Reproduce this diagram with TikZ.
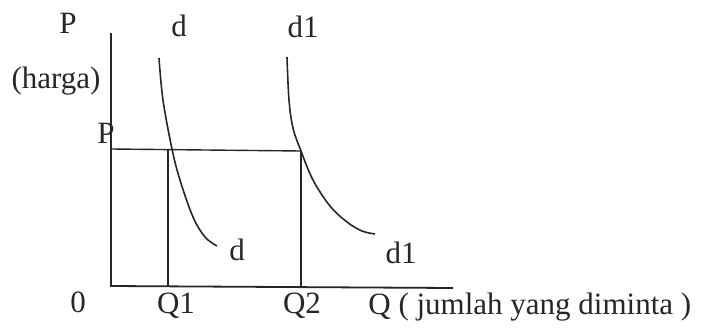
\documentclass[tikz,border=0pt]{standalone}
\usepackage{fontspec}
\setmainfont{Liberation Serif}
\usetikzlibrary{positioning}
\definecolor{demInk}{HTML}{262626}
\tikzset{
  every picture/.style={font=\fontsize{15.5}{18}\selectfont, text=demInk},
  dem axis/.style={draw=demInk, line width=0.9pt},
  dem guide/.style={draw=demInk, line width=0.7pt},
  dem curve/.style={draw=demInk, line width=0.8pt},
  dem label/.style={anchor=base, inner sep=0pt}
}

\begin{document}
\begin{tikzpicture}[x=0.5pt,y=-0.5pt]
  \useasboundingbox (0,0) rectangle (701,332);
  % axes
  \coordinate (O) at (111,286);
  \coordinate (ytop) at (111,33);
  \coordinate (xend) at (453,288);
  \draw[dem axis] (ytop) -- (O) -- (xend);
  % price level and quantities
  \coordinate (pP) at (111,149);
  \coordinate (E1) at (168,149);
  \coordinate (E2) at (301,151);
  \coordinate (q1) at (168,287);
  \coordinate (q2) at (301,288);
  \draw[dem guide] (pP) -- (E2);
  \draw[dem guide] (E1) -- (q1);
  \draw[dem guide] (E2) -- (q2);
  % demand curves
  \draw[dem curve] plot[smooth, tension=0.6] coordinates
    {(159,58) (163,100) (172,149) (180,180) (193,217) (205,237) (217,246)};
  \draw[dem curve] plot[smooth, tension=0.6] coordinates
    {(287,57) (289,100) (293,128) (301,151) (313,180) (330,206) (347,222) (362,231) (375,234)};
  % labels
  \node[dem label] (lP) at (68,33) {P};
  \node[dem label] (lharga) at (56,88) {(harga)};
  \node[dem label] (ld) at (179,36) {d};
  \node[dem label] (ldone) at (303,37) {d1};
  \node[dem label] (lPp) at (106,143) {P};
  \node[dem label] (lzero) at (78,312) {0};
  \node[dem label] (lQone) at (176,313) {Q1};
  \node[dem label] (lQtwo) at (302,313) {Q2};
  \node[dem label, anchor=base west] (lQ) at (368,314) {Q ( jumlah yang diminta )};
  \node[dem label] (ldb) at (237,260) {d};
  \node[dem label] (ldoneb) at (401,263) {d1};
\end{tikzpicture}
\end{document}
